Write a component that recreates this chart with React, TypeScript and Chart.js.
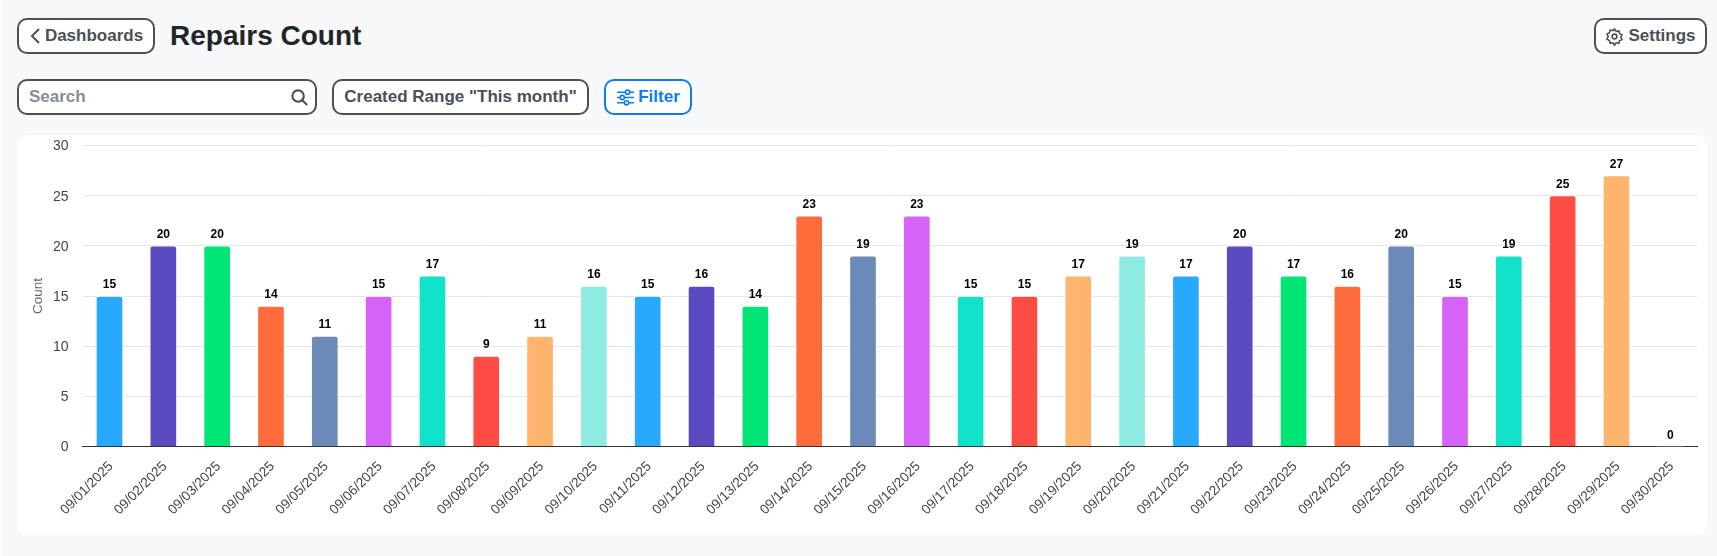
import React, { useEffect, useRef } from "react";
import { Chart, registerables } from "chart.js";

Chart.register(...registerables);

const dates = ["09/01/2025","09/02/2025","09/03/2025","09/04/2025","09/05/2025","09/06/2025","09/07/2025","09/08/2025","09/09/2025","09/10/2025","09/11/2025","09/12/2025","09/13/2025","09/14/2025","09/15/2025","09/16/2025","09/17/2025","09/18/2025","09/19/2025","09/20/2025","09/21/2025","09/22/2025","09/23/2025","09/24/2025","09/25/2025","09/26/2025","09/27/2025","09/28/2025","09/29/2025","09/30/2025"];
const counts = [15,20,20,14,11,15,17,9,11,16,15,16,14,23,19,23,15,15,17,19,17,20,17,16,20,15,19,25,27,0];
const palette = ["#26a9ff","#5a4bc0","#00e676","#ff6b3b","#6c8ab8","#d563f5","#10e3c9","#ff4d45","#ffb56e","#8eebe2"];
const FONT = '"Liberation Sans", Arial, sans-serif';

const valueLabels = {
  id: "valueLabels",
  afterDatasetsDraw(chart: any) {
    const { ctx } = chart;
    const meta = chart.getDatasetMeta(0);
    ctx.save();
    ctx.font = `bold 12px ${FONT}`;
    ctx.fillStyle = "#000";
    ctx.textAlign = "center";
    ctx.textBaseline = "alphabetic";
    meta.data.forEach((bar: any, i: number) => {
      ctx.fillText(String(counts[i]), bar.x, bar.y - 8);
    });
    ctx.restore();
  },
};

const btn = (left: number, top: number, width: number, height: number, color = "#495057"): React.CSSProperties => ({
  position: "absolute", left, top, width, height, boxSizing: "border-box",
  border: `2px solid ${color}`, borderRadius: 10, background: "#fff", color,
  font: `bold 17px ${FONT}`, display: "flex", alignItems: "center", justifyContent: "center", gap: 4,
});

export default function App() {
  const ref = useRef<HTMLCanvasElement | null>(null);
  useEffect(() => {
    const chart = new Chart(ref.current!, {
      type: "bar",
      data: {
        labels: dates,
        datasets: [{
          data: counts,
          backgroundColor: dates.map((_, i) => palette[i % palette.length]),
          borderColor: "#fff",
          borderWidth: (c: any) => (counts[c.dataIndex] ? 1 : 0),
          barThickness: 27,
          borderRadius: 3,
          borderSkipped: "bottom",
        }],
      },
      plugins: [valueLabels],
      options: {
        animation: false,
        responsive: false,
        devicePixelRatio: 1,
        layout: { padding: { left: 0, right: 9.8, top: 10.5, bottom: 0 } },
        plugins: { legend: { display: false }, tooltip: { enabled: false } },
        scales: {
          x: {
            grid: { display: false },
            border: { color: "#333", width: 1 },
            afterFit: (s: any) => { s.height = 88.5; s.paddingLeft = 0; s.paddingRight = 0; },
            ticks: { minRotation: 45, maxRotation: 45, color: "#444", font: { size: 13.6, family: FONT }, autoSkip: false, padding: 4, labelOffset: 1.5 },
          },
          y: {
            min: 0, max: 30,
            afterFit: (s: any) => { s.width = 65.6; s.paddingTop = 0; s.paddingBottom = 0; },
            title: { display: true, text: "Count", color: "#666", font: { size: 13.5, family: FONT }, padding: { top: 13, bottom: 4 } },
            grid: { color: "#e5e5e5", drawTicks: false },
            border: { display: false },
            ticks: { stepSize: 5, color: "#444", font: { size: 14, family: FONT }, padding: 14, labelOffset: 1 },
          },
        },
      },
    } as any);
    return () => chart.destroy();
  }, []);

  return (
    <div style={{ position: "fixed", left: 0, top: 0, width: 1717, height: 556, background: "#fff", overflow: "hidden", fontFamily: FONT }}>
      <div style={{ position: "absolute", left: 2, top: 0, width: 1715, height: 556, background: "#f7f8fa" }} />
      <div style={btn(17, 18, 138, 36)}>
        <svg width="12" height="18" viewBox="0 0 12 18" fill="none" stroke="#495057" strokeWidth="2"><path d="M10 2 3 9l7 7" /></svg>
        Dashboards
      </div>
      <div style={{ position: "absolute", left: 170, top: 17, height: 38, font: `bold 28px/38px ${FONT}`, color: "#212529" }}>Repairs Count</div>
      <div style={btn(1594, 18, 113, 36)}>
        <svg width="19" height="19" viewBox="0 0 24 24" fill="none" stroke="#495057" strokeWidth="2"><circle cx="12" cy="12" r="3" /><path d="M12 2.500l2 3 3.500-.6.9 3.400 3.100 1.700-1.500 3 1.500 3-3.100 1.200-.9 3.400-3.500-.6-2 3-2-3-3.500.6-.9-3.400L2.500 15l1.500-3-1.500-3 3.100-1.700.9-3.400 3.500.6z" /></svg>
        Settings
      </div>
      <div style={{ ...btn(17, 79, 300, 36), justifyContent: "flex-start", paddingLeft: 10, color: "#868e96", borderColor: "#495057" }}>
        Search
        <svg style={{ position: "absolute", right: 6, top: 7 }} width="19" height="19" viewBox="0 0 20 20" fill="none" stroke="#495057" strokeWidth="2.200"><circle cx="8.500" cy="8.500" r="6" /><path d="M13 13l5 5" /></svg>
      </div>
      <div style={btn(332, 79, 257, 36)}>Created Range "This month"</div>
      <div style={{ ...btn(604, 79, 88, 36, "#0d7bf2"), gap: 3 }}>
        <svg width="19" height="19" viewBox="0 0 18 18" fill="none" stroke="#0d7bf2" strokeWidth="1.500"><path d="M1 4h16M1 9h16M1 14h16" /><circle cx="11" cy="4" r="2" fill="#fff" /><circle cx="6" cy="9" r="2" fill="#fff" /><circle cx="10" cy="14" r="2" fill="#fff" /></svg>
        Filter
      </div>
      <div style={{ position: "absolute", left: 17, top: 135, width: 1690, height: 400, background: "#fff", borderRadius: 12, overflow: "hidden" }}>
        <canvas ref={ref} width={1690} height={400} style={{ display: "block" }} />
      </div>
    </div>
  );
}
